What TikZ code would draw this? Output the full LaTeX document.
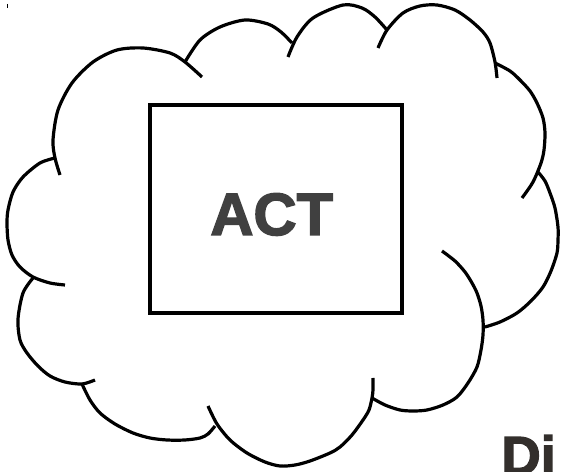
\documentclass[tikz,border=0pt]{standalone}
\usepackage{fontspec}
\newfontfamily\heavyfont{Liberation Sans}[UprightFont={* Bold},FakeBold=2.5]
\usetikzlibrary{positioning}
\definecolor{inkgray}{HTML}{404040}
\definecolor{darkink}{HTML}{332F2C}
\tikzset{x=.02cm,y=-.02cm,
  puff/.style={draw=black,line width=.064cm},
  frame/.style={draw=black,line width=.064cm,minimum width=5.04cm,minimum height=4.16cm,inner sep=0pt},
  bigword/.style={inner sep=0pt,anchor=base west,font=\heavyfont\fontsize{34}{40}\selectfont}}
\begin{document}
\begin{tikzpicture}
\useasboundingbox(0,0)rectangle(562,472);
\clip(0,0)rectangle(562,472);
\draw[line width=.03cm](7.5,4)--(7.5,8);
\draw[puff]plot[smooth]coordinates{(60,175)(55,158)(53,140)(58,110)(72,83)(93,62)(117,50)(143,48)(170,53)(185,62)(202,77)};
\draw[puff]plot[smooth]coordinates{(185,62)(200,40)(220,27)(245,20)(268,24)(281,32)(292,43)};
\draw[puff]plot[smooth]coordinates{(288,57)(297,37)(313,18)(343,5)(362,8)(375,17)(387,30)};
\draw[puff]plot[smooth]coordinates{(378,48)(387,30)(403,13)(420,6)(437,5)(455,10)(470,20)(483,32)(490,43)(495,62)(497,78)};
\draw[puff]plot[smooth]coordinates{(495,63)(510,71)(520,80)(530,91)(537,103)(543,118)(545,133)(544,150)(541,163)(533,182)(522,198)};
\draw[puff]plot[smooth]coordinates{(538,172)(545,181)(550,193)(555,208)(558,227)(558,240)(557,253)(551,271)(543,287)(531,301)(517,313)(500,322)(485,327)};
\draw[puff]plot[smooth]coordinates{(442,251)(455,261)(465,272)(472,283)(477,293)(481,306)(483,320)(483,335)(481,350)(477,367)(468,383)(457,397)(443,405)(427,410)(413,411)(400,410)(385,405)(372,398)};
\draw[puff]plot[smooth]coordinates{(373,378)(373,390)(372,398)(369,410)(363,420)(352,435)(340,447)(330,453)(310,461)(295,465)(280,466)(265,462)(247,453)(230,440)(217,424)(208,406)};
\draw[puff]plot[smooth]coordinates{(82,384)(90,400)(100,413)(115,424)(133,433)(150,438)(167,440)(185,440)(200,438)(208,434)(215,426)};
\draw[puff]plot[smooth]coordinates{(33,278)(23,293)(18,319)(20,340)(27,353)(38,366)(50,376)(65,382)(82,384)(95,380)};
\draw[puff]plot[smooth]coordinates{(55,158)(40,163)(23,177)(13,192)(8,210)(7,223)(8,240)(12,255)(20,267)(33,277)(50,283)(65,285)};
\node[frame](box)at(276,209){};
\node[bigword,text=inkgray](act)at(210,235){ACT};
\node[bigword,text=darkink,font=\heavyfont\fontsize{31}{36}\selectfont](caption)at(501,474.5){Di};
\end{tikzpicture}
\end{document}
